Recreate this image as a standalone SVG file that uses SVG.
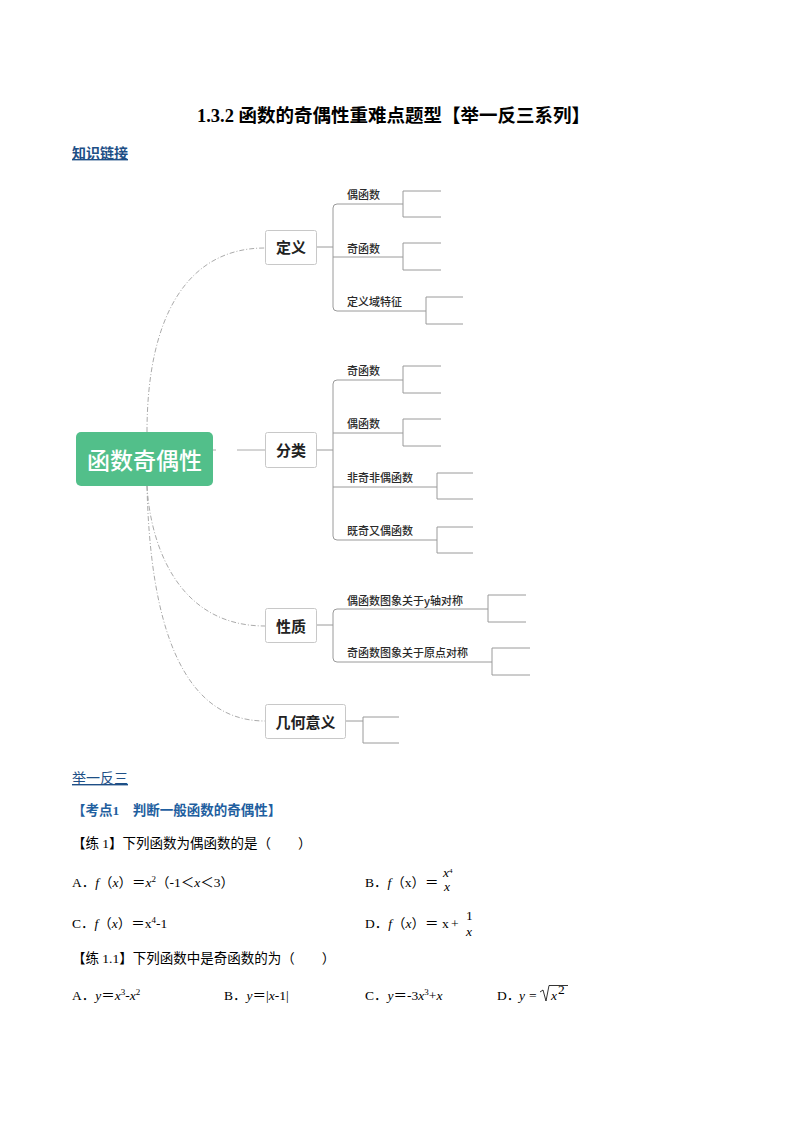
<svg xmlns="http://www.w3.org/2000/svg" width="794" height="1123" viewBox="0 0 794 1123">
<style>
.t{font-family:"Liberation Serif","Noto Sans CJK SC",serif;fill:#000;font-size:13.5px}
.i{font-style:italic}
.h{font-family:"Liberation Serif","Noto Sans CJK SC",serif;font-size:14px;fill:#1e4f86;text-decoration:underline}
.k{font-family:"Liberation Serif","Noto Sans CJK SC",serif;font-size:13.5px;font-weight:bold;fill:#1f5fa0}
.box{fill:#fff;stroke:#c8c8c8;stroke-width:1}
.l1{font-family:"Noto Sans CJK SC",sans-serif;font-size:15px;font-weight:bold;fill:#222;text-anchor:middle}
.l2{font-family:"Noto Sans CJK SC",sans-serif;font-size:11px;font-weight:500;fill:#2a2a2a}
.ln{fill:none;stroke:#9a9a9a;stroke-width:1}
.dl{fill:none;stroke:#a0a0a0;stroke-width:0.9;stroke-dasharray:5 2 1 2}
</style>
<rect width="794" height="1123" fill="#fff"/>
<text x="393.5" y="122" text-anchor="middle" style="font-family:'Liberation Serif','Noto Sans CJK SC',serif;font-size:18.5px;font-weight:bold">1.3.2 函数的奇偶性重难点题型【举一反三系列】</text>
<text x="72" y="158" class="h" font-weight="bold">知识链接</text>

<g id="connectors">
<path class="dl" d="M147,432 C147,320 185,248 265,248"/>
<path class="dl" d="M213,450 H265" style="stroke-dasharray:3 21 28"/>
<path class="dl" d="M147,486 C150,540 175,626 265,626"/>
<path class="dl" d="M147,486 C150,620 180,721 265,721"/>
<path class="ln" d="M317,247 H333"/>
<path class="ln" d="M403,204 H337 Q333,204 333,208 V307 Q333,311 337,311 H426"/>
<path class="ln" d="M333,257 H403"/>
<path class="ln" d="M441,191 H403 V217 H441"/>
<path class="ln" d="M441,243 H403 V270 H441"/>
<path class="ln" d="M463,297 H426 V324 H463"/>
<path class="ln" d="M317,450 H333"/>
<path class="ln" d="M403,380 H337 Q333,380 333,384 V536 Q333,540 337,540 H437"/>
<path class="ln" d="M333,433 H403"/>
<path class="ln" d="M333,487 H437"/>
<path class="ln" d="M441,366 H403 V393 H441"/>
<path class="ln" d="M441,419 H403 V446 H441"/>
<path class="ln" d="M473,473 H437 V499 H473"/>
<path class="ln" d="M473,527 H437 V553 H473"/>
<path class="ln" d="M317,625 H333"/>
<path class="ln" d="M488,609 H337 Q333,609 333,613 V658 Q333,662 337,662 H492"/>
<path class="ln" d="M526,595 H488 V622 H526"/>
<path class="ln" d="M530,648 H492 V675 H530"/>
<path class="ln" d="M346,721 H363"/>
<path class="ln" d="M399,717 H363 V743 H399"/>
</g>

<g id="root">
<rect x="76" y="432" width="137" height="54" rx="5" fill="#52bf8a"/>
<text x="144.5" y="469" text-anchor="middle" style="font-family:'Noto Sans CJK SC',sans-serif;font-size:23px;font-weight:500;fill:#fff">函数奇偶性</text>
</g>

<g id="n-dingyi">
<rect class="box" x="265.5" y="230.5" width="51" height="34" rx="2"/>
<text class="l1" x="291" y="253">定义</text>
</g>
<g id="n-dingyi-1"><text class="l2" x="347" y="199">偶函数</text></g>
<g id="n-dingyi-2"><text class="l2" x="347" y="253">奇函数</text></g>
<g id="n-dingyi-3"><text class="l2" x="347" y="306">定义域特征</text></g>

<g id="n-fenlei">
<rect class="box" x="265.5" y="432.5" width="51" height="35" rx="2"/>
<text class="l1" x="291" y="456">分类</text>
</g>
<g id="n-fenlei-1"><text class="l2" x="347" y="375">奇函数</text></g>
<g id="n-fenlei-2"><text class="l2" x="347" y="428">偶函数</text></g>
<g id="n-fenlei-3"><text class="l2" x="347" y="482">非奇非偶函数</text></g>
<g id="n-fenlei-4"><text class="l2" x="347" y="535">既奇又偶函数</text></g>

<g id="n-xingzhi">
<rect class="box" x="265.5" y="608.5" width="51" height="34" rx="2"/>
<text class="l1" x="291" y="632">性质</text>
</g>
<g id="n-xingzhi-1"><text class="l2" x="347" y="605">偶函数图象关于y轴对称</text></g>
<g id="n-xingzhi-2"><text class="l2" x="347" y="657">奇函数图象关于原点对称</text></g>

<g id="n-jihe">
<rect class="box" x="265.5" y="704.5" width="80" height="34" rx="2"/>
<text class="l1" x="305.5" y="728">几何意义</text>
</g>

<text x="72" y="783" class="h">举一反三</text>
<text x="72" y="815" class="k">【考点1　判断一般函数的奇偶性】</text>
<text x="72" y="848" class="t">【练 1】下列函数为偶函数的是（　　）</text>

<text x="72" y="887" class="t">A．<tspan class="i">f</tspan>（<tspan class="i">x</tspan>）＝<tspan class="i">x</tspan><tspan font-size="9" dy="-5">2</tspan><tspan dy="5">（-1＜</tspan><tspan class="i">x</tspan>＜3）</text>
<text x="365" y="887" class="t">B．<tspan class="i">f</tspan>（x）＝</text>
<text x="443" y="877" class="t i" font-size="10">x<tspan font-style="normal" font-size="7" dy="-4">4</tspan></text>
<text x="444" y="891" class="t i" font-size="10">x</text>

<text x="72" y="928" class="t">C．<tspan class="i">f</tspan>（<tspan class="i">x</tspan>）＝x<tspan font-size="9" dy="-5">4</tspan><tspan dy="5">-1</tspan></text>
<text x="365" y="928" class="t">D．<tspan class="i">f</tspan>（<tspan class="i">x</tspan>）＝</text>
<text x="442" y="928" class="t">x</text>
<text x="451" y="928" class="t">+</text>
<text x="466" y="920" class="t" font-size="8">1</text>
<text x="466" y="935.5" class="t i" font-size="8.5">x</text>

<text x="72" y="963" class="t">【练 1.1】下列函数中是奇函数的为（　　）</text>

<text x="72" y="1000" class="t">A．<tspan class="i">y</tspan>＝<tspan class="i">x</tspan><tspan font-size="9" dy="-5">3</tspan><tspan dy="5">-</tspan><tspan class="i">x</tspan><tspan font-size="9" dy="-5">2</tspan></text>
<text x="224" y="1000" class="t">B．<tspan class="i">y</tspan>＝|<tspan class="i">x</tspan>-1|</text>
<text x="365" y="1000" class="t">C．<tspan class="i">y</tspan>＝-3<tspan class="i">x</tspan><tspan font-size="9" dy="-5">3</tspan><tspan dy="5">+</tspan><tspan class="i">x</tspan></text>
<text x="497" y="1000" class="t">D．</text>
<text x="519" y="1000" class="t i">y</text>
<text x="529" y="1000" class="t">=</text>
<path d="M540,992 L543,990 L546,1001 L549,985.5 H568" stroke="#000" stroke-width="0.8" fill="none"/>
<text x="551" y="1000" class="t i">x</text>
<text x="558" y="994" class="t" font-size="8.5">2</text>
</svg>
